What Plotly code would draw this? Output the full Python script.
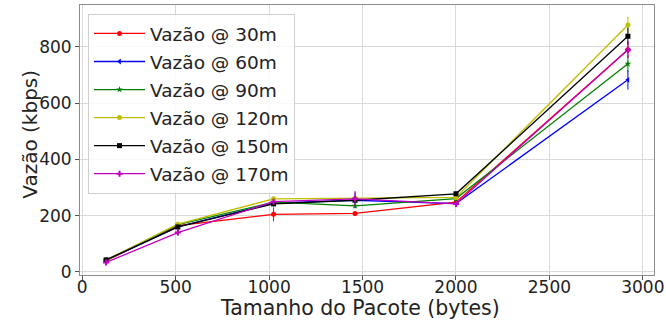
import plotly.graph_objects as go

# Packet sizes (bytes)
tamanho = [128, 512, 1024, 1460, 2000, 2920]

# Throughput (kbps) per distance, with standard deviation
vazao_30 = [40, 165, 205, 208, 248, 790]
erro_30 = [4, 8, 25, 6, 8, 30]
vazao_60 = [42, 160, 245, 255, 243, 683]
erro_60 = [4, 8, 10, 28, 8, 35]
vazao_90 = [42, 168, 248, 235, 261, 740]
erro_90 = [4, 8, 8, 8, 8, 30]
vazao_120 = [42, 170, 260, 262, 265, 878]
erro_120 = [4, 8, 8, 8, 8, 30]
vazao_150 = [43, 160, 242, 255, 278, 838]
erro_150 = [4, 8, 8, 8, 8, 30]
vazao_170 = [34, 140, 250, 260, 242, 790]
erro_170 = [4, 10, 8, 28, 8, 30]

nomes = ["Vazão @ 30m", "Vazão @ 60m", "Vazão @ 90m",
         "Vazão @ 120m", "Vazão @ 150m", "Vazão @ 170m"]
series = [vazao_30, vazao_60, vazao_90, vazao_120, vazao_150, vazao_170]
erros = [erro_30, erro_60, erro_90, erro_120, erro_150, erro_170]
cores = ["#ff0000", "#0000ff", "#008000", "#bfbf00", "#000000", "#bf00bf"]
simbolos = ["circle", "triangle-left", "star", "circle", "square", "cross"]

fig = go.Figure()
for nome, y, e, cor, simb in zip(nomes, series, erros, cores, simbolos):
    fig.add_trace(go.Scatter(
        x=tamanho, y=y, name=nome, legendgroup=nome, mode="lines+markers",
        line=dict(color=cor, width=1.3),
        marker=dict(color=cor, symbol=simb, size=5),
        error_y=dict(type="data", array=e, visible=True, color=cor,
                     thickness=1, width=0),
    ))

fonte = "DejaVu Sans, sans-serif"
eixo = dict(
    showgrid=True, gridcolor="#d9d9d9", gridwidth=1,
    showline=True, linecolor="#8c8c8c", linewidth=1, mirror=True,
    ticks="outside", ticklen=4, tickcolor="#555", zeroline=False,
    tickfont=dict(size=17, color="#222", family=fonte),
    automargin=False,
)

fig.update_layout(
    width=666, height=329,
    margin=dict(l=80, r=12, t=5, b=54),
    plot_bgcolor="white", paper_bgcolor="white",
    font=dict(family=fonte, color="#222"),
    xaxis=dict(eixo, range=[-11.6, 3059.6], tickvals=[0, 500, 1000, 1500, 2000, 2500, 3000],
               ticklabelstandoff=-7),
    yaxis=dict(eixo, range=[-10.7, 949], tickvals=[0, 200, 400, 600, 800]),
    legend=dict(
        x=0.014, y=0.967, xanchor="left", yanchor="top",
        bgcolor="rgba(255,255,255,0.85)", bordercolor="#d0d0d0", borderwidth=1,
        font=dict(size=18.5, family=fonte, color="#222"),
        tracegroupgap=1, itemwidth=51,
    ),
    showlegend=True,
    annotations=[
        dict(text="Tamanho do Pacote (bytes)", xref="paper", yref="paper",
             x=0.488, y=-0.122, xanchor="center", yanchor="middle",
             showarrow=False, font=dict(size=20.5, family=fonte, color="#222")),
        dict(text="Vazão (kbps)", xref="paper", yref="paper", textangle=-90,
             x=-0.087, y=0.52, xanchor="center", yanchor="middle",
             showarrow=False, font=dict(size=20, family=fonte, color="#222")),
    ],
)

fig.write_html("out.html")
